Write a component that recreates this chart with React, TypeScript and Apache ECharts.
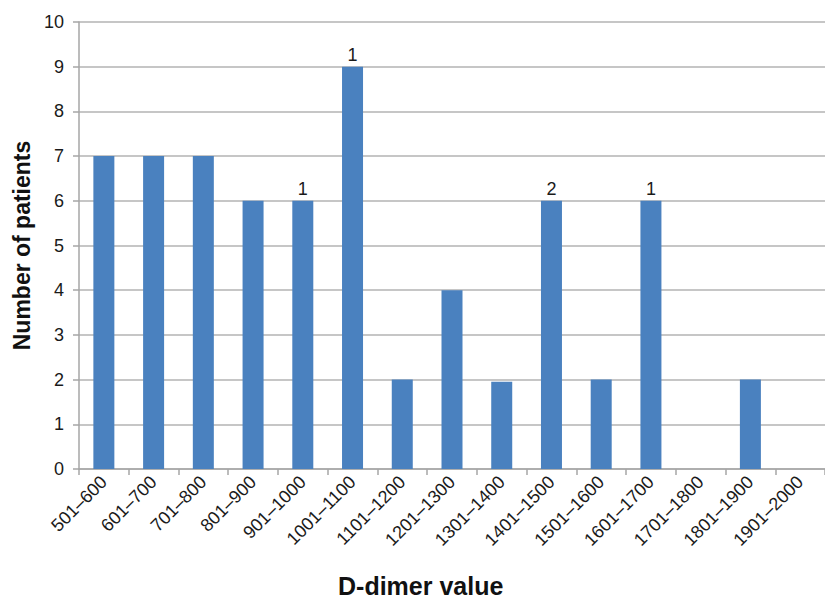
import React, { useEffect, useRef } from "react";
import * as echarts from "echarts";

const categories = [
  "501–600", "601–700", "701–800", "801–900", "901–1000", "1001–1100",
  "1101–1200", "1201–1300", "1301–1400", "1401–1500", "1501–1600",
  "1601–1700", "1701–1800", "1801–1900", "1901–2000",
];
const patients = [7, 7, 7, 6, 6, 9, 2, 4, 1.95, 6, 2, 6, 0, 2, 0];
const annotations = ["", "", "", "", "1", "1", "", "", "", "2", "", "1", "", "", ""];
const yTicks = [0, 1, 2, 3, 4, 5, 6, 7, 8, 9, 10];

export default function App() {
  const ref = useRef<HTMLDivElement>(null);
  useEffect(() => {
    if (!ref.current) return;
    const chart = echarts.init(ref.current, undefined, { renderer: "svg" });
    const font = "Liberation Sans, Arial, sans-serif";
    chart.setOption({
      animation: false,
      textStyle: { fontFamily: font },
      grid: { left: 79, right: -9, top: 22, bottom: 129, containLabel: false },
      xAxis: {
        type: "category",
        data: categories,
        axisLine: { lineStyle: { color: "#a6a6a6", width: 1.5 } },
        axisTick: { show: true, length: 6, alignWithLabel: false, lineStyle: { color: "#a6a6a6", width: 1.5 } },
        axisLabel: { rotate: 45, fontSize: 18, color: "#1a1a1a", fontFamily: font, margin: 10, interval: 0 },
      },
      yAxis: {
        type: "value",
        min: yTicks[0],
        max: yTicks[yTicks.length - 1],
        interval: 1,
        name: "Number of patients",
        nameLocation: "middle",
        nameGap: 46,
        nameTextStyle: { fontSize: 23, fontWeight: "bold", color: "#111", fontFamily: font },
        axisLine: { show: true, lineStyle: { color: "#a6a6a6", width: 1.5 } },
        axisTick: { show: true, length: 6, lineStyle: { color: "#a6a6a6", width: 1.5 } },
        axisLabel: { fontSize: 18, color: "#1a1a1a", fontFamily: font, margin: 15 },
        splitLine: { show: true, lineStyle: { color: "#b3b3b3", width: 1.5 } },
      },
      series: [
        {
          type: "bar",
          data: patients.map((v, i) => ({
            value: v,
            label: {
              show: annotations[i] !== "",
              position: "top",
              formatter: annotations[i],
              fontSize: 18,
              color: "#1a1a1a",
              fontFamily: font,
              distance: 3,
            },
          })),
          barWidth: 21,
          itemStyle: { color: "#4a81bf" },
        },
      ],
      graphic: [
        {
          type: "text",
          left: 338,
          top: 573,
          style: { text: "D-dimer value", fontSize: 25, fontWeight: "bold", fill: "#111", fontFamily: font },
        },
      ],
    });
    return () => chart.dispose();
  }, []);
  return <div ref={ref} style={{ position: "absolute", left: 0, top: 0, width: 825, height: 598 }} />;
}
